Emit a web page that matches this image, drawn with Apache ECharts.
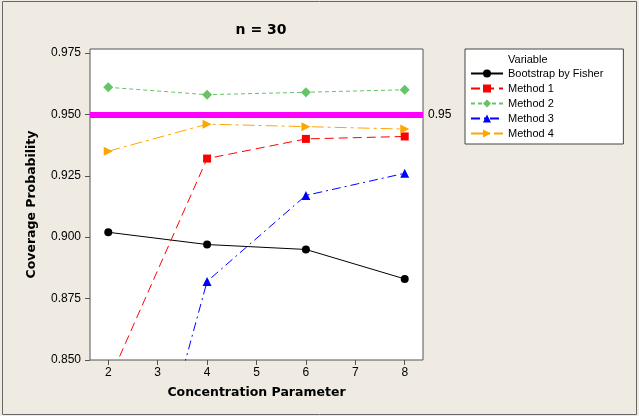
<!DOCTYPE html>
<html>
<head>
<meta charset="utf-8">
<script src="https://cdn.jsdelivr.net/npm/echarts@6/dist/echarts.min.js"></script>
<style>
  html, body { margin: 0; padding: 0; background: #EFEBE2; }
  #myChart { width: 639px; height: 416px; }
</style>
</head>
<body>
<div id="myChart"></div>
<script>
// concentration parameter values
var xValues = [2, 4, 6, 8]
// coverage probabilities
var bootstrap = [0.902, 0.897, 0.895, 0.883]
var method1 = [0.841, 0.932, 0.940, 0.941]
var method2 = [0.961, 0.958, 0.959, 0.960]
var method3 = [0.735, 0.882, 0.917, 0.926]
var method4 = [0.935, 0.946, 0.945, 0.944]
var target = 0.95

var font = 'Liberation Sans'

function pairs (ys) {
  return xValues.map(function (x, i) { return [x, ys[i]] })
}

function makeLine (name, ys, color, dash, symbol, size, rotate) {
  return {
    name: name,
    type: 'line',
    data: pairs(ys),
    symbol: symbol,
    symbolSize: size,
    symbolRotate: rotate || 0,
    clip: true,
    itemStyle: { color: color },
    lineStyle: { color: color, width: 1, type: dash },
    emphasis: { disabled: true }
  }
}

var myChart = echarts.init(document.getElementById('myChart'))

var series = [
  makeLine('Bootstrap by Fisher', bootstrap, '#000000', 'solid', 'circle', 8),
  makeLine('Method 1', method1, '#FF0000', [9, 5], 'rect', 8),
  makeLine('Method 2', method2, '#66C466', [4, 3], 'diamond', 10),
  makeLine('Method 3', method3, '#0000FF', [9, 4, 2, 4], 'triangle', 9),
  makeLine('Method 4', method4, '#FFA500', [12, 4, 3, 4], 'triangle', 9, -90)
]

// reference line at 0.95
series.push({
  name: 'ref',
  type: 'line',
  data: [],
  markLine: {
    silent: true,
    symbol: 'none',
    lineStyle: { color: '#FF00FF', width: 6, type: 'solid' },
    label: {
      show: true,
      position: 'end',
      formatter: '0.95',
      color: '#000',
      fontFamily: font,
      fontSize: 12,
      distance: 5
    },
    data: [{ yAxis: target }]
  }
})

myChart.setOption({
  animation: false,
  backgroundColor: '#EFEBE2',
  textStyle: { fontFamily: font },
  title: {
    text: 'n = 30',
    left: 256,
    top: 18,
    textAlign: 'center',
    textStyle: { fontFamily: 'DejaVu Sans', fontSize: 14, fontWeight: 'bold', color: '#000' }
  },
  graphic: [
    {
      type: 'rect',
      shape: { x: 2.5, y: 1.5, width: 634, height: 413 },
      style: { fill: 'none', stroke: '#666', lineWidth: 1 },
      z: 0
    },
    {
      type: 'text',
      left: 508,
      top: 54,
      style: { text: 'Variable', font: '11px "Liberation Sans"', fill: '#000' },
      z: 10
    }
  ],
  legend: {
    data: ['Bootstrap by Fisher', 'Method 1', 'Method 2', 'Method 3', 'Method 4'],
    orient: 'vertical',
    left: 465,
    top: 49,
    padding: [19, 20, 5, 5],
    itemWidth: 32,
    itemHeight: 10,
    itemGap: 4,
    backgroundColor: '#fff',
    borderColor: '#444',
    borderWidth: 1,
    borderRadius: 0,
    textStyle: { fontFamily: font, fontSize: 11, color: '#000', lineHeight: 11 }
  },
  grid: {
    left: 90,
    right: 216,
    top: 49,
    bottom: 56,
    show: true,
    backgroundColor: '#fff',
    borderColor: '#555',
    borderWidth: 1,
    containLabel: false
  },
  xAxis: {
    type: 'value',
    min: 1.63,
    max: 8.37,
    name: 'Concentration Parameter',
    nameLocation: 'middle',
    nameGap: 26,
    nameTextStyle: { fontFamily: 'DejaVu Sans', fontWeight: 'bold', fontSize: 12.5, color: '#000' },
    axisLine: { show: false },
    axisTick: { show: true, length: 5, lineStyle: { color: '#555' } },
    axisLabel: {
      showMinLabel: false,
      showMaxLabel: false,
      margin: 7,
      fontSize: 12,
      color: '#000',
      fontFamily: font
    },
    splitLine: { show: false }
  },
  yAxis: {
    type: 'value',
    min: 0.85,
    max: 0.9766,
    interval: 0.025,
    name: 'Coverage Probability',
    nameLocation: 'middle',
    nameGap: 52,
    nameTextStyle: { fontFamily: 'DejaVu Sans', fontWeight: 'bold', fontSize: 12.5, color: '#000' },
    axisLine: { show: false },
    axisTick: { show: true, length: 5, lineStyle: { color: '#555' } },
    axisLabel: {
      showMaxLabel: false,
      margin: 9,
      fontSize: 12,
      color: '#000',
      fontFamily: font,
      formatter: function (v) { return v.toFixed(3) }
    },
    splitLine: { show: false }
  },
  series: series
})
</script>
</body>
</html>
